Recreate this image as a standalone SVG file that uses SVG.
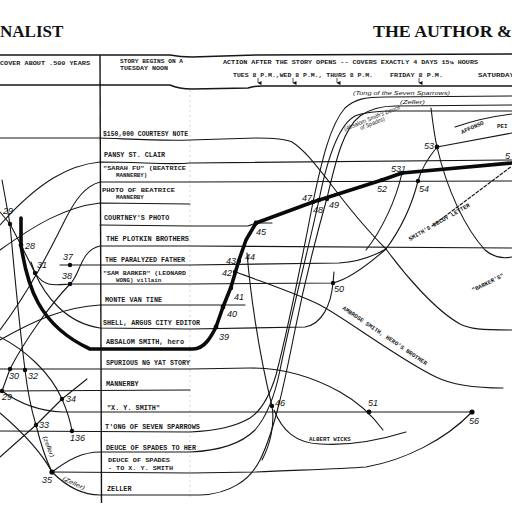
<svg xmlns="http://www.w3.org/2000/svg" width="512" height="512" viewBox="0 0 512 512">
<defs>
<style>
.ln{fill:none;stroke:#161616;stroke-width:1.1;stroke-linecap:round;stroke-linejoin:round}
.rule{fill:none;stroke:#161616;stroke-width:1.4}
.hero{fill:none;stroke:#0a0a0a;stroke-width:3.6;stroke-linecap:round;stroke-linejoin:round}
.tw{font-family:"Liberation Mono","DejaVu Sans Mono",monospace;font-size:6.8px;font-weight:bold;fill:#1a1a1a}
.tw2{font-family:"Liberation Mono","DejaVu Sans Mono",monospace;font-size:5.8px;font-weight:bold;fill:#1a1a1a}
.hd{font-family:"Liberation Serif","DejaVu Serif",serif;font-size:17px;font-weight:bold;fill:#111}
.hw{font-family:"Liberation Sans","DejaVu Sans",sans-serif;font-style:italic;font-size:6px;fill:#1a1a1a}
.num{font-family:"Liberation Sans","DejaVu Sans",sans-serif;font-style:italic;font-size:9px;fill:#111}
.dot{fill:#0a0a0a}
.faint{fill:none;stroke:#bbb;stroke-width:0.6;stroke-dasharray:2 3}
.tick{fill:none;stroke:#222;stroke-width:0.8}
</style>
<marker id="dn" markerWidth="4" markerHeight="4" refX="2" refY="3.5" orient="auto" markerUnits="userSpaceOnUse">
<path d="M0,0 L4,0 L2,4 z" fill="#111"/>
</marker>
</defs>
<rect width="512" height="512" fill="#fff"/>

<!-- page titles -->
<g id="titles">
<text class="hd" x="0" y="37">NALIST</text>
<text class="hd" x="373" y="37" textLength="139" lengthAdjust="spacingAndGlyphs">THE AUTHOR &amp;</text>
</g>

<!-- time header band -->
<g id="header">
<path class="rule" d="M0,55 L170,55 Q180,57 192,57 L256,55 L512,54"/>
<path class="rule" d="M0,85 L170,85 Q179,89 192,89 L248,88 Q254,86 262,86 L512,86"/>
<path class="rule" d="M100,55 L101.5,503"/>
<path class="faint" d="M190,90 L190,500"/>
<text class="tw2" x="0" y="65" textLength="90" lengthAdjust="spacingAndGlyphs">COVER ABOUT .500 YEARS</text>
<text class="tw2" x="120" y="63" textLength="63" lengthAdjust="spacingAndGlyphs">STORY BEGINS ON A</text>
<text class="tw2" x="120" y="70" textLength="48" lengthAdjust="spacingAndGlyphs">TUESDAY NOON</text>
<text class="tw2" x="223" y="64" textLength="255" lengthAdjust="spacingAndGlyphs">ACTION AFTER THE STORY OPENS -- COVERS EXACTLY 4 DAYS 15¼ HOURS</text>
<text class="tw2" x="233" y="77" textLength="140" lengthAdjust="spacingAndGlyphs">TUES 8 P.M.,WED 8 P.M., THURS 8 P.M.</text>
<text class="tw2" x="390" y="77" textLength="53" lengthAdjust="spacingAndGlyphs">FRIDAY 8 P.M.</text>
<text class="tw2" x="478" y="77" textLength="36" lengthAdjust="spacingAndGlyphs">SATURDAY</text>
<g class="tick" marker-end="url(#dn)">
<path d="M258,78 L258,83"/>
<path d="M293,78 L293,83"/>
<path d="M337,78 L337,83"/>
<path d="M419,78 L419,83"/>
</g>
</g>

<!-- character and object rows -->
<g id="rows">
<text class="tw" x="103" y="136" textLength="85" lengthAdjust="spacingAndGlyphs">$150,000 COURTESY NOTE</text>
<text class="tw" x="104" y="157">PANSY ST. CLAIR</text>
<text class="tw2" x="103" y="170" textLength="83" lengthAdjust="spacingAndGlyphs">"SARAH FU" (BEATRICE</text>
<text class="tw2" x="116" y="177">MANNERBY)</text>
<text class="tw2" x="102" y="191.5" textLength="73" lengthAdjust="spacingAndGlyphs">PHOTO OF BEATRICE</text>
<text class="tw2" x="116" y="198.5">MANNERBY</text>
<text class="tw" x="104" y="220">COURTNEY'S PHOTO</text>
<text class="tw" x="106" y="241" textLength="83" lengthAdjust="spacingAndGlyphs">THE PLOTKIN BROTHERS</text>
<text class="tw" x="105" y="262" textLength="80" lengthAdjust="spacingAndGlyphs">THE PARALYZED FATHER</text>
<text class="tw2" x="103" y="275" textLength="83" lengthAdjust="spacingAndGlyphs">"SAM BARKER" (LEONARD</text>
<text class="tw2" x="116" y="282">WONG) villain</text>
<text class="tw" x="105" y="302">MONTE VAN TINE</text>
<text class="tw" x="103" y="325" textLength="97" lengthAdjust="spacingAndGlyphs">SHELL, ARGUS CITY EDITOR</text>
<text class="tw" x="106" y="344" textLength="78" lengthAdjust="spacingAndGlyphs">ABSALOM SMITH, hero</text>
<text class="tw" x="106" y="365" textLength="84" lengthAdjust="spacingAndGlyphs">SPURIOUS NG YAT STORY</text>
<text class="tw" x="106" y="386">MANNERBY</text>
<text class="tw" x="107" y="410">"X. Y. SMITH"</text>
<text class="tw" x="105" y="429" textLength="95" lengthAdjust="spacingAndGlyphs">T'ONG OF SEVEN SPARROWS</text>
<text class="tw" x="106" y="450" textLength="90" lengthAdjust="spacingAndGlyphs">DEUCE OF SPADES TO HER</text>
<text class="tw2" x="108" y="462" textLength="62" lengthAdjust="spacingAndGlyphs">DEUCE OF SPADES</text>
<text class="tw2" x="108" y="469.5" textLength="65" lengthAdjust="spacingAndGlyphs">- TO X. Y. SMITH</text>
<text class="tw" x="107" y="491">ZELLER</text>
</g>

<!-- story lines -->
<g id="connectors">
<path class="ln" d="M0,138 L100,138 C130,139 160,141 190,140 L256,138 C274,138 285,139 292,142 C305,150 318,168 330,183 C345,203 365,228 386,249"/>
<path class="ln" d="M0,225 C40,180 70,165 100,162 C140,162 170,165 190,163 L512,160"/>
<path class="ln" d="M0,330 C30,290 50,250 65,220 C75,200 85,186 100,182 L190,182 L512,181"/>
<path class="ln" d="M0,250 C35,225 65,207 100,203 L190,204"/>
<path class="ln" d="M100,225 L190,226 L248,226 C251,225 253,224 256,223 L272,223"/>
<path class="ln" d="M70,284 C80,276 80,250 100,246 L190,246 L512,248"/>
<path class="ln" d="M60,265 L190,265 L339,263 C356,262 372,257 386,249"/>
<path class="ln" d="M0,212 L10,224 L21,245 L35,273 C45,288 55,285 70,284 L190,284 L333,283 C350,279 370,263 386,249"/>
<path class="ln" d="M31,262 L35,273"/>
<path class="ln" d="M0,340 C35,320 65,307 100,305 L245,305"/>
<path class="ln" d="M35,273 C45,296 66,323 100,328 L190,329 L305,327 C322,324 331,305 333,283 L334,272"/>
<path class="ln" d="M70,284 C50,305 25,340 10,369 L2,391"/>
<path class="ln" d="M0,369 L190,369 L250,368 C285,368 315,378 340,392 C358,402 372,415 383,430"/>
<path class="ln" d="M0,391 L190,390"/>
<path class="ln" d="M2,391 C20,404 40,411 62,412 L472,412"/>
<path class="ln" d="M0,431 L190,432 C215,431 235,427 250,418 C262,410 270,395 276,375 C285,340 300,270 313,202 C322,160 330,125 345,108 C355,99 365,97 385,97 L512,96"/>
<path class="ln" d="M52,472 C68,460 82,452 100,452 L190,452 C215,451 240,445 255,430 C268,415 275,395 280,370 C290,320 308,250 319,200 C327,160 338,125 355,116 C365,112 380,111 395,111 L512,111"/>
<path class="ln" d="M52,472 L190,473 L256,472 C300,470 340,469 366,467 C405,460 445,440 472,412"/>
<path class="ln" d="M2,180 L10,224 C15,280 20,330 25,370 C28,395 32,412 36,425 C41,445 46,460 52,472 C65,485 80,495 100,495 L200,495 C230,494 250,480 260,460 C275,430 285,380 295,330 C305,280 318,230 327,198 C335,165 342,130 360,116 C370,109 380,106 395,106 L512,105"/>
<path class="ln" d="M0,413 C20,430 40,450 52,472"/>
<path class="ln" d="M0,457 L36,425 L62,399 L87,379"/>
<path class="ln" d="M0,337 C25,350 50,372 62,399 C68,413 71,425 72,431"/>
<path class="ln" d="M236,272 C265,283 300,295 320,305 C345,318 400,360 436,377 C450,384 470,388 503,388"/>
<path class="ln" d="M247,253 C250,290 258,350 272,406 C275,425 270,445 262,460"/>
<path class="ln" d="M274,410 C282,430 295,443 320,444 C350,446 380,440 406,432"/>
<path class="ln" d="M431,108 C433,125 435,138 437,147 C447,190 465,228 485,250 C493,257 502,259 512,257"/>
<path class="ln" d="M437,147 C428,158 421,170 418,181 C412,205 400,230 386,249"/>
<path class="ln" d="M402,173 C396,200 382,230 366,250"/>
<path class="ln" d="M386,249 C405,275 435,310 460,324 C470,329 480,330 512,330"/>
<path class="ln" d="M437,147 L512,133"/>
<path class="ln" d="M455,127 C475,120 495,116 512,114"/>
<path class="ln" d="M432,226 L512,166" stroke-dasharray="3 2"/>
<path class="hero" d="M21,218 L21,245 C27,285 38,325 90,349 L193,349 C205,349 212,335 216,327 L223,307 L231,287 L239,260 L246,240 L256,223 L313,202 L382,180 L402,173 L512,163"/>
</g>

<!-- labels written along the lines -->
<g id="line-labels">
<text class="hw" x="353" y="95" textLength="97" lengthAdjust="spacingAndGlyphs">(Tong of the Seven Sparrows)</text>
<text class="hw" x="400" y="104" textLength="25" lengthAdjust="spacingAndGlyphs">(Zeller)</text>
<text class="hw" transform="translate(345,131) rotate(-22)" textLength="60" lengthAdjust="spacingAndGlyphs">(Absalom Smith's Deuce</text>
<text class="hw" transform="translate(361,130) rotate(-22)" textLength="26" lengthAdjust="spacingAndGlyphs">of Spades)</text>
<text class="tw2" transform="translate(462,134) rotate(-24)">AFFONSO</text>
<text class="tw2" x="497" y="128">PEI</text>
<text class="tw2" transform="translate(410,241) rotate(-30)">SMITH'S DECOY LETTER</text>
<text class="tw2" transform="translate(473,292) rotate(-26)">"BARKER'S"</text>
<text class="tw2" transform="translate(342,309) rotate(34)">AMBROSE SMITH, HERO'S BROTHER</text>
<text class="tw2" x="309" y="441" font-size="5.2">ALBERT WICKS</text>
<text class="hw" transform="translate(43,437) rotate(70)" textLength="22" lengthAdjust="spacingAndGlyphs">(zeller)</text>
<text class="hw" transform="translate(62,480) rotate(25)" textLength="24" lengthAdjust="spacingAndGlyphs">(Zeller)</text>
</g>

<!-- numbered events -->
<g id="p28"><circle class="dot" cx="21" cy="245" r="2.4"/><text class="num" x="25" y="249">28</text></g>
<g id="p29a"><circle class="dot" cx="10" cy="224" r="2.2"/><text class="num" x="3" y="214">29</text></g>
<g id="p31"><circle class="dot" cx="35" cy="273" r="2.2"/><text class="num" x="37" y="268">31</text></g>
<g id="p37"><circle class="dot" cx="70" cy="265" r="2.2"/><text class="num" x="63" y="260">37</text></g>
<g id="p38"><circle class="dot" cx="70" cy="284" r="2.2"/><text class="num" x="62" y="279">38</text></g>
<g id="p30"><circle class="dot" cx="10" cy="369" r="2.2"/><text class="num" x="9" y="379">30</text></g>
<g id="p32"><circle class="dot" cx="25" cy="370" r="2.2"/><text class="num" x="28" y="379">32</text></g>
<g id="p29b"><circle class="dot" cx="2" cy="391" r="2.2"/><text class="num" x="2" y="400">29</text></g>
<g id="p34"><circle class="dot" cx="62" cy="399" r="2.2"/><text class="num" x="66" y="402">34</text></g>
<g id="p33"><circle class="dot" cx="36" cy="425" r="2.2"/><text class="num" x="39" y="428">33</text></g>
<g id="p136"><circle class="dot" cx="72" cy="431" r="2.2"/><text class="num" x="70" y="441">136</text></g>
<g id="p35"><circle class="dot" cx="52" cy="472" r="2.6"/><text class="num" x="42" y="483">35</text></g>
<g id="p39"><circle class="dot" cx="216" cy="327" r="2.4"/><text class="num" x="219" y="340">39</text></g>
<g id="p40"><circle class="dot" cx="223" cy="307" r="2.4"/><text class="num" x="227" y="317">40</text></g>
<g id="p41"><circle class="dot" cx="231" cy="288" r="2.2"/><text class="num" x="234" y="300">41</text></g>
<g id="p42"><circle class="dot" cx="235" cy="272" r="2.2"/><text class="num" x="222" y="276">42</text></g>
<g id="p43"><circle class="dot" cx="239" cy="261" r="2.2"/><text class="num" x="226" y="264">43</text></g>
<g id="p44"><text class="num" x="245" y="260" font-size="7">44</text></g>
<g id="p45"><circle class="dot" cx="256" cy="223" r="2.4"/><text class="num" x="256" y="235">45</text></g>
<g id="p47"><circle class="dot" cx="313" cy="202" r="2.2"/><text class="num" x="302" y="201">47</text></g>
<g id="p48"><circle class="dot" cx="319" cy="200" r="2.2"/><text class="num" x="313" y="213">48</text></g>
<g id="p49"><circle class="dot" cx="327" cy="199" r="2.2"/><text class="num" x="329" y="208">49</text></g>
<g id="p50"><circle class="dot" cx="333" cy="283" r="2.2"/><text class="num" x="334" y="292">50</text></g>
<g id="p46"><circle class="dot" cx="272" cy="406" r="2.2"/><text class="num" x="275" y="406">46</text></g>
<g id="p51"><circle class="dot" cx="369" cy="412" r="2.4"/><text class="num" x="368" y="406">51</text></g>
<g id="p52"><circle class="dot" cx="382" cy="180" r="2.2"/><text class="num" x="377" y="192">52</text></g>
<g id="p531"><circle class="dot" cx="402" cy="173" r="2.2"/><text class="num" x="391" y="172">531</text></g>
<g id="p53"><circle class="dot" cx="437" cy="147" r="2.4"/><text class="num" x="424" y="149">53</text></g>
<g id="p54"><circle class="dot" cx="418" cy="181" r="2.2"/><text class="num" x="419" y="192">54</text></g>
<g id="p56"><circle class="dot" cx="472" cy="412" r="2.6"/><text class="num" x="469" y="424">56</text></g>
<g id="p5x"><text class="num" x="505" y="159">5</text></g>
</svg>
